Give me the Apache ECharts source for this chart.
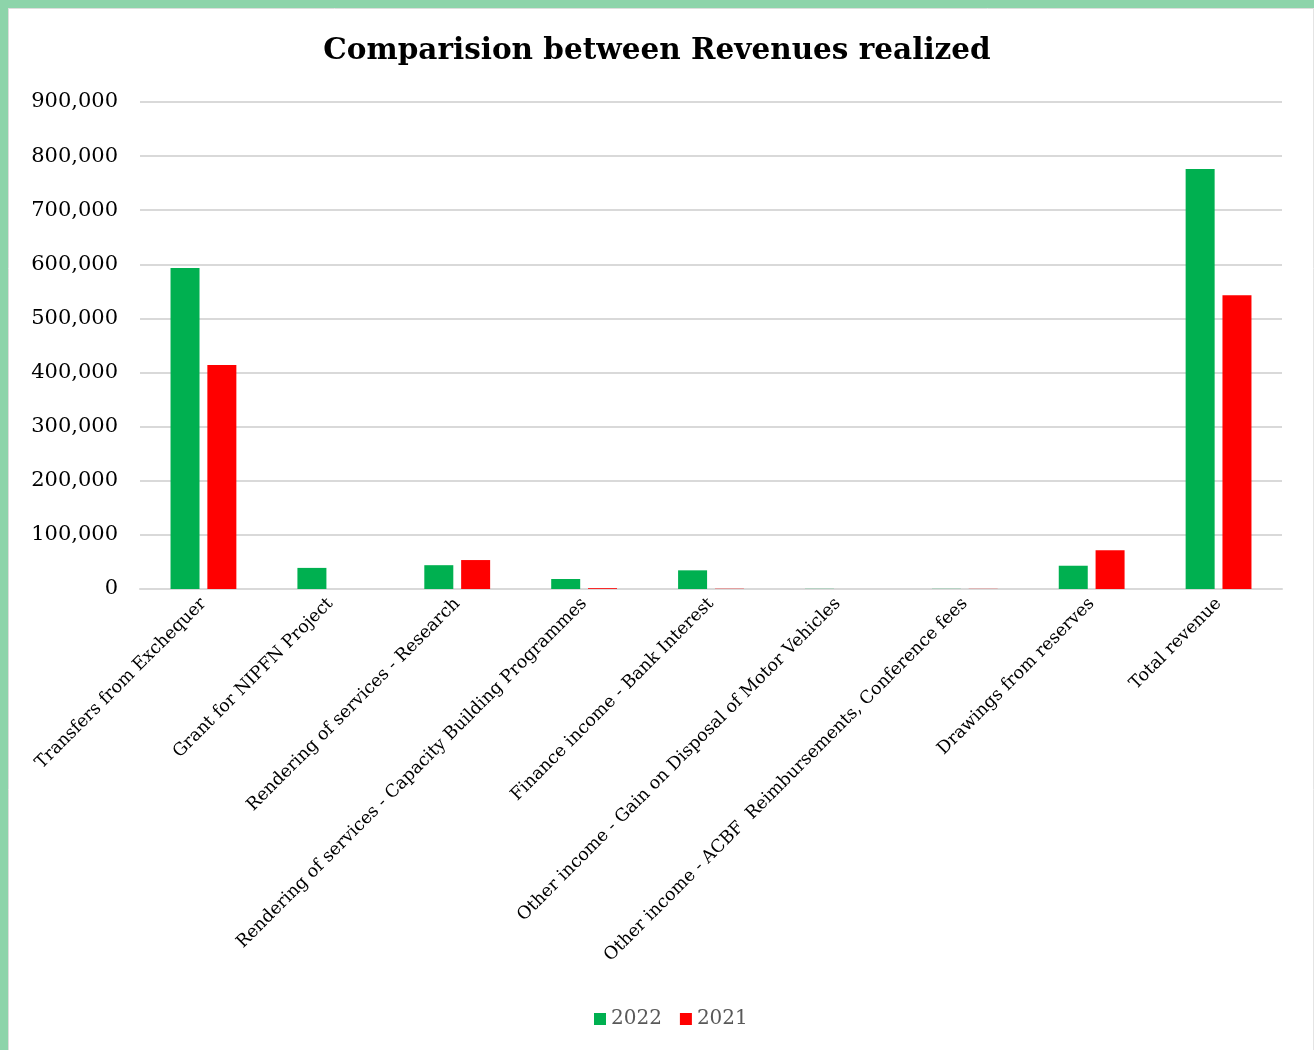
<!DOCTYPE html>
<html>
<head>
<meta charset="utf-8">
<script src="https://cdn.jsdelivr.net/npm/echarts@6/dist/echarts.min.js"></script>
<style>
html,body{margin:0;padding:0;background:#fff;}
#chart{width:1314px;height:1050px;}
</style>
</head>
<body>
<div id="chart"></div>
<script>
const categories = [
  "Transfers from Exchequer",
  "Grant for NIPFN Project",
  "Rendering of services - Research",
  "Rendering of services - Capacity Building Programmes",
  "Finance income - Bank Interest",
  "Other income - Gain on Disposal of Motor Vehicles",
  "Other income - ACBF  Reimbursements, Conference fees",
  "Drawings from reserves",
  "Total revenue"
];
const values2022 = [593000, 39000, 44000, 18500, 34500, 300, 300, 43000, 776000];
const values2021 = [414000, 0, 53500, 1500, 500, 0, 300, 71500, 543000];
const yTicks = { min: 0, max: 900000, interval: 100000 };

const FONT = "DejaVu Serif";
const chart = echarts.init(document.getElementById('chart'));
chart.setOption({
  backgroundColor: '#ffffff',
  animation: false,
  graphic: [
    { type: 'rect', shape: { x: 0, y: 0, width: 1314, height: 8 }, style: { fill: '#8DD4AA' } },
    { type: 'rect', shape: { x: 0, y: 0, width: 8, height: 1050 }, style: { fill: '#8DD4AA' } },
    { type: 'line', shape: { x1: 8, y1: 8.5, x2: 1314, y2: 8.5 }, style: { stroke: '#dddddd', lineWidth: 1 } },
    { type: 'line', shape: { x1: 8.5, y1: 8, x2: 8.5, y2: 1050 }, style: { stroke: '#dddddd', lineWidth: 1 } },
    { type: 'line', shape: { x1: 1313.5, y1: 8, x2: 1313.5, y2: 1050 }, style: { stroke: '#e4e4e4', lineWidth: 1 } }
  ],
  title: {
    text: 'Comparision between Revenues realized',
    left: 'center',
    top: 31,
    textStyle: { fontFamily: FONT, fontWeight: 'bold', fontSize: 29.5, color: '#000' }
  },
  legend: {
    bottom: 16,
    left: 589,
    itemWidth: 12,
    itemHeight: 12,
    itemGap: 18,
    icon: 'rect',
    textStyle: { fontFamily: FONT, fontSize: 20, color: '#595959' },
    data: ['2022', '2021']
  },
  grid: { left: 140, right: 32, top: 102, bottom: 461, containLabel: false },
  xAxis: {
    type: 'category',
    data: categories,
    axisLine: { lineStyle: { color: '#d9d9d9', width: 2 } },
    axisTick: { show: false },
    axisLabel: {
      interval: 0,
      rotate: 45,
      margin: 12,
      fontFamily: FONT,
      fontSize: 17.5,
      color: '#000'
    }
  },
  yAxis: {
    type: 'value',
    min: yTicks.min,
    max: yTicks.max,
    interval: yTicks.interval,
    axisLine: { show: false },
    axisTick: { show: false },
    splitLine: { lineStyle: { color: '#d9d9d9', width: 2 } },
    axisLabel: {
      margin: 22,
      fontFamily: FONT,
      fontSize: 21,
      color: '#000',
      formatter: v => v.toLocaleString('en-US')
    }
  },
  series: [
    {
      name: '2022', type: 'bar', data: values2022,
      barWidth: 29, barGap: '27%',
      itemStyle: { color: '#00B050' }
    },
    {
      name: '2021', type: 'bar', data: values2021,
      barWidth: 29,
      itemStyle: { color: '#FF0000' }
    }
  ]
});
</script>
</body>
</html>
